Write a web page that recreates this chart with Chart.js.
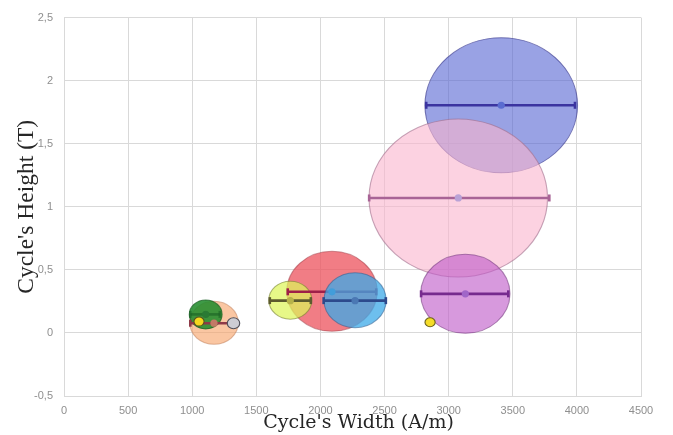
<!DOCTYPE html>
<html>
<head>
<meta charset="utf-8">
<script src="https://cdn.jsdelivr.net/npm/chart.js@4/dist/chart.umd.min.js"></script>
<style>
  html, body { margin: 0; padding: 0; background: #ffffff; }
  #wrap { width: 673px; height: 435px; }
</style>
</head>
<body>
<div id="wrap"><canvas id="c" width="673" height="435"></canvas></div>
<script>
// ---- data ----
const seriesNames   = ['S1', 'S2', 'S3', 'S4', 'S5', 'S6', 'S7', 'S8', 'S9', 'S10', 'S11'];
const widthCenter   = [3410, 3075, 3130, 2090, 2270, 1765, 1105, 1170, 1053, 1322, 2855];
const heightCenter  = [1.805, 1.07, 0.31, 0.33, 0.26, 0.26, 0.147, 0.08, 0.09, 0.077, 0.085];
const bubbleSize    = [67.5, 79, 39.5, 40, 27.5, 19, 14.5, 21.5, 4.5, 5.5, 4.5];
// horizontal spread (min / max width) for the series that carry one
const widthMin      = [2825, 2380, 2785, 1745, 2025, 1605, 985, 985, null, null, null];
const widthMax      = [3985, 3785, 3465, 2435, 2510, 1925, 1215, 1320, null, null, null];
const barLevel      = [1.805, 1.07, 0.31, 0.326, 0.256, 0.256, 0.147, 0.077, null, null, null];

const xTicks = [0, 500, 1000, 1500, 2000, 2500, 3000, 3500, 4000, 4500];
const yTicks = [-0.5, 0, 0.5, 1, 1.5, 2, 2.5];

// ---- styles ----
const fills = [
  'rgba(85,100,210,0.6)',  'rgba(250,180,205,0.6)', 'rgba(190,90,200,0.62)',
  'rgba(236,82,92,0.75)',  'rgba(60,170,232,0.75)', 'rgba(222,245,90,0.72)',
  'rgba(35,140,45,0.88)',  'rgba(247,160,100,0.6)', 'rgba(245,215,30,1)',
  'rgba(205,205,212,1)',   'rgba(245,220,40,1)'
];
const edges = [
  'rgba(70,70,150,0.7)', 'rgba(160,110,140,0.6)', 'rgba(120,60,130,0.6)',
  'rgba(160,60,70,0.5)', 'rgba(50,100,150,0.6)', 'rgba(120,130,50,0.6)',
  'rgba(20,90,30,0.7)',  'rgba(190,120,80,0.5)', 'rgba(90,80,30,1)',
  'rgba(80,80,90,1)',    'rgba(110,100,30,1)'
];
const barColors = [
  '#3b34a0', '#a86496', '#762a8e', '#9e1f48', '#2d4a8c', '#5c5a2e',
  'rgba(25,95,35,0.6)', '#8e3a48', null, null, null
];
const dotColors = [
  '#5a6cd0', '#b9a2d6', '#a066c8', '#5577b0', '#4b78b4', '#b7b24a',
  '#2a7a34', '#c27a66', null, null, null
];
// stacking: larger number sits lower
const bubbleOrder = [40, 36, 32, 28, 22, 26, 14, 18, 10, 10, 30];
const barOrder    = [38, 34, 30, 24, 20, 25, 12, 11, null, null, null];

// bubbles drawn as ellipses, stretched horizontally around their centre
const STRETCH_X = 1.13;
class EllipseBubbleController extends Chart.BubbleController {
  getMaxOverflow() { return 0; }
  draw() {
    const ctx = this.chart.ctx;
    const area = this.chart.chartArea;
    for (const el of this._cachedMeta.data) {
      ctx.save();
      ctx.translate(el.x, el.y);
      ctx.scale(STRETCH_X, 1);
      ctx.translate(-el.x, -el.y);
      el.draw(ctx, area);
      ctx.restore();
    }
  }
}
EllipseBubbleController.id = 'ellipseBubble';
EllipseBubbleController.defaults = Chart.BubbleController.defaults;
EllipseBubbleController.overrides = Chart.BubbleController.overrides;
Chart.register(EllipseBubbleController);

const datasets = [];
seriesNames.forEach((name, i) => {
  datasets.push({
    type: 'ellipseBubble',
    label: name,
    data: [{ x: widthCenter[i], y: heightCenter[i], r: bubbleSize[i] }],
    backgroundColor: fills[i],
    borderColor: edges[i],
    borderWidth: 1,
    clip: false,
    order: bubbleOrder[i]
  });
  if (widthMin[i] !== null) {
    datasets.push({
      type: 'line',
      label: name + ' range',
      data: [
        { x: widthMin[i], y: barLevel[i] },
        { x: widthCenter[i], y: barLevel[i] },
        { x: widthMax[i], y: barLevel[i] }
      ],
      borderColor: barColors[i],
      borderWidth: 2.6,
      pointStyle: ['line', 'circle', 'line'],
      pointRotation: [90, 0, 90],
      pointRadius: [3.5, 3.6, 3.5],
      pointBorderWidth: [2.6, 0, 2.6],
      pointBorderColor: barColors[i],
      pointBackgroundColor: [barColors[i], dotColors[i], barColors[i]],
      fill: false,
      tension: 0,
      clip: false,
      order: barOrder[i]
    });
  }
});

const fmt = v => String(v).replace('.', ',');
const gridColor = '#d9d9d9';
const tickFont = { family: '"Liberation Sans", Arial, sans-serif', size: 11 };

new Chart(document.getElementById('c'), {
  type: 'scatter',
  data: { datasets },
  options: {
    responsive: false,
    animation: false,
    devicePixelRatio: 1,
    events: [],
    layout: { padding: { top: 10, right: 32, bottom: 0, left: 0 } },
    plugins: { legend: { display: false }, tooltip: { enabled: false } },
    scales: {
      x: {
        type: 'linear',
        min: xTicks[0],
        max: xTicks[xTicks.length - 1],
        afterBuildTicks: s => { s.ticks = xTicks.map(v => ({ value: v })); },
        afterFit: s => { s.height = 39; },
        grid: { color: gridColor, lineWidth: 1, drawTicks: false },
        border: { color: gridColor },
        ticks: { color: '#8f8f8f', font: tickFont, padding: 8, maxRotation: 0, callback: v => fmt(v) },
        title: {
          display: true,
          text: "\u00a0\u00a0Cycle's Width (A/m)",
          color: '#262626',
          font: { family: '"DejaVu Serif", serif', size: 19 },
          padding: { top: 0, bottom: 1 }
        }
      },
      y: {
        type: 'linear',
        min: yTicks[0],
        max: yTicks[yTicks.length - 1],
        afterBuildTicks: s => { s.ticks = yTicks.map(v => ({ value: v })); },
        afterFit: s => { s.width = 64; },
        grid: { color: gridColor, lineWidth: 1, drawTicks: false },
        border: { color: gridColor },
        ticks: { color: '#8f8f8f', font: tickFont, padding: 11, callback: v => fmt(v) },
        title: {
          display: true,
          text: "Cycle's Height (T)",
          color: '#262626',
          font: { family: '"Liberation Serif", serif', size: 23.5 },
          padding: { top: 13, bottom: 0 }
        }
      }
    }
  }
});
</script>
</body>
</html>
